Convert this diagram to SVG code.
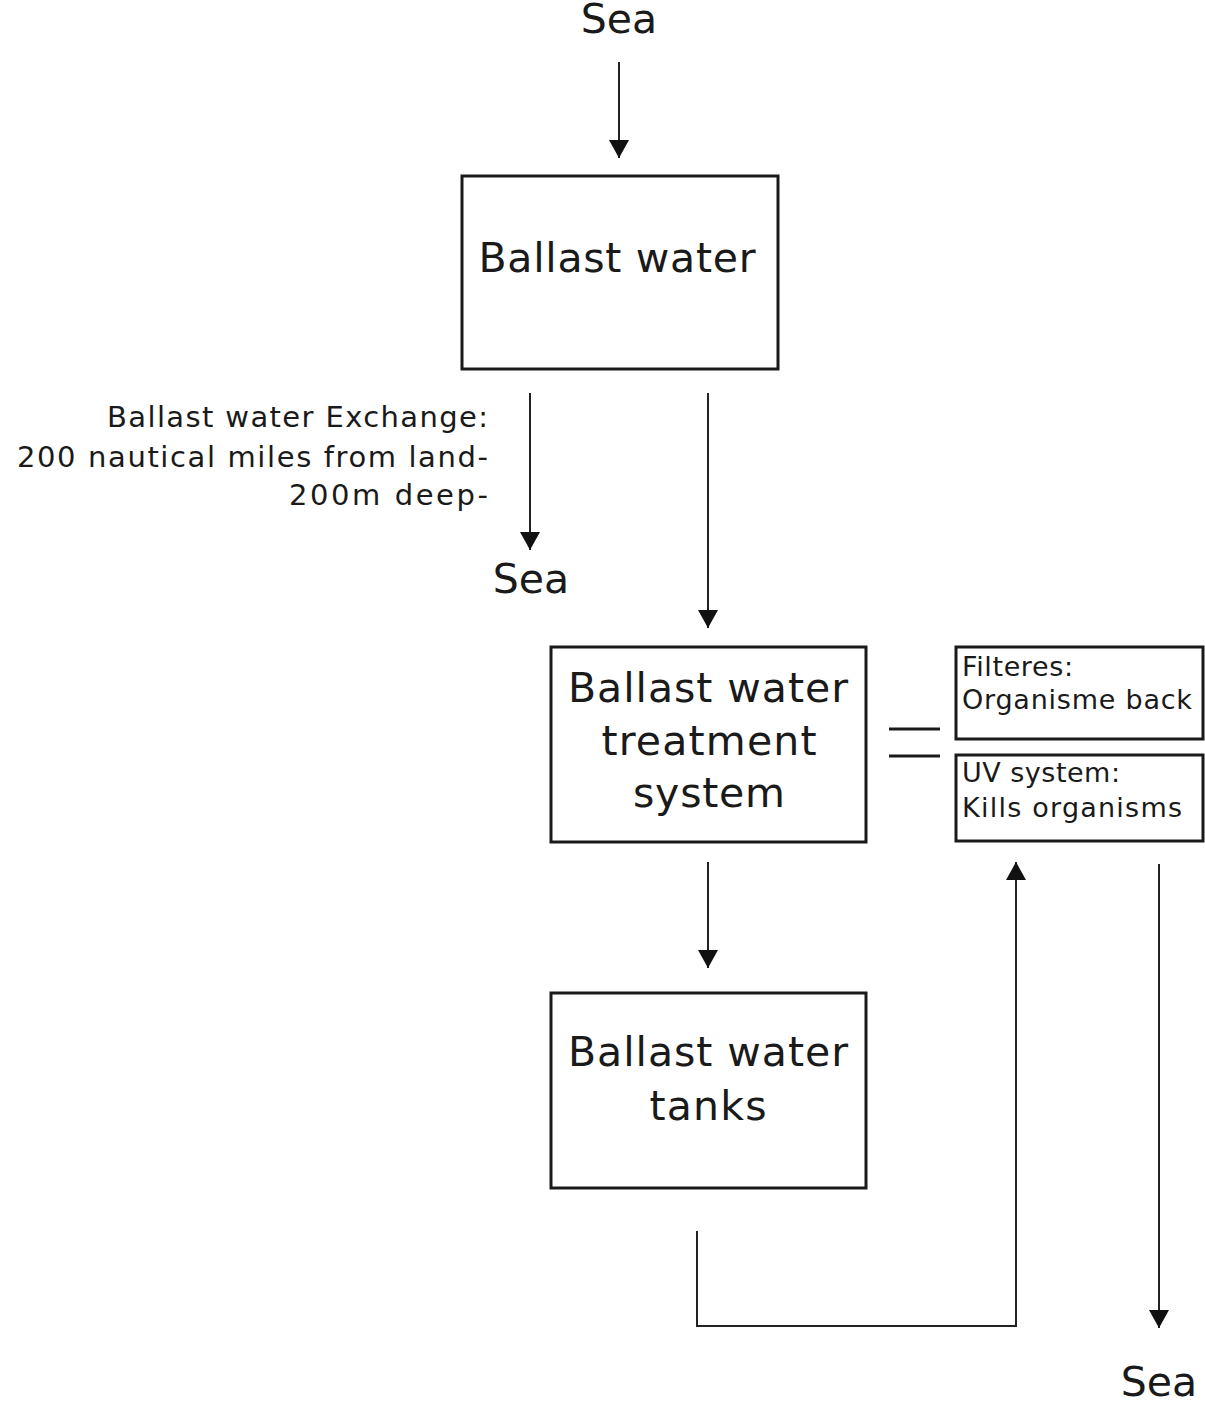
<svg xmlns="http://www.w3.org/2000/svg" width="1205" height="1404" viewBox="0 0 1205 1404">
<style>
  .box { fill: #ffffff; stroke: #1a1a1a; stroke-width: 3; }
  .big { font-family: "DejaVu Sans", "Liberation Sans", sans-serif; font-size: 41px; fill: #1a1a1a; text-anchor: middle; }
  .mid { font-family: "DejaVu Sans", "Liberation Sans", sans-serif; font-size: 29px; fill: #1a1a1a; text-anchor: end; }
  .small { font-family: "DejaVu Sans", "Liberation Sans", sans-serif; font-size: 27px; fill: #1a1a1a; }
  .conn { fill: none; stroke: #222222; stroke-width: 2; }
  .eq { stroke: #1a1a1a; stroke-width: 3; }
</style>
<defs>
  <marker id="arrow" viewBox="0 0 18 20" markerWidth="18" markerHeight="20" refX="18" refY="10" orient="auto" markerUnits="userSpaceOnUse">
    <path d="M0,0 L18,10 L0,20 Z" fill="#111111"/>
  </marker>
</defs>
<rect width="1205" height="1404" fill="#ffffff"/>

<g id="connectors">
  <line class="conn" x1="619" y1="62" x2="619" y2="158" marker-end="url(#arrow)"/>
  <line class="conn" x1="530" y1="393" x2="530" y2="550" marker-end="url(#arrow)"/>
  <line class="conn" x1="708" y1="393" x2="708" y2="628" marker-end="url(#arrow)"/>
  <line class="conn" x1="708" y1="862" x2="708" y2="968" marker-end="url(#arrow)"/>
  <polyline class="conn" points="697,1231 697,1326 1016,1326 1016,862" marker-end="url(#arrow)"/>
  <line class="conn" x1="1159" y1="864" x2="1159" y2="1328" marker-end="url(#arrow)"/>
</g>

<g id="sea-top">
  <text class="big" x="619" y="33">Sea</text>
</g>

<g id="ballast-water">
  <rect class="box" x="462" y="176" width="316" height="193"/>
  <text class="big" x="617" y="272" textLength="277">Ballast water</text>
</g>

<g id="exchange-label">
  <text class="mid" x="488" y="427" textLength="381">Ballast water Exchange:</text>
  <text class="mid" x="488" y="467" textLength="471">200 nautical miles from land-</text>
  <text class="mid" x="488" y="505" textLength="199">200m deep-</text>
</g>

<g id="sea-middle">
  <text class="big" x="531" y="593">Sea</text>
</g>

<g id="treatment-system">
  <rect class="box" x="551" y="647" width="315" height="195"/>
  <text class="big" x="708" y="702" textLength="280">Ballast water</text>
  <text class="big" x="709" y="755" textLength="215">treatment</text>
  <text class="big" x="709" y="807" textLength="152">system</text>
</g>

<g id="equals">
  <line class="eq" x1="889" y1="729" x2="940" y2="729"/>
  <line class="eq" x1="889" y1="756" x2="940" y2="756"/>
</g>

<g id="filters">
  <rect class="box" x="956" y="647" width="247" height="92"/>
  <text class="small" x="962" y="676" textLength="111">Filteres:</text>
  <text class="small" x="962" y="709" textLength="230">Organisme back</text>
</g>

<g id="uv-system">
  <rect class="box" x="956" y="755" width="247" height="86"/>
  <text class="small" x="962" y="782" textLength="158">UV system:</text>
  <text class="small" x="962" y="817" textLength="220">Kills organisms</text>
</g>

<g id="tanks">
  <rect class="box" x="551" y="993" width="315" height="195"/>
  <text class="big" x="708" y="1066" textLength="280">Ballast water</text>
  <text class="big" x="708" y="1120" textLength="117">tanks</text>
</g>

<g id="sea-bottom">
  <text class="big" x="1159" y="1396">Sea</text>
</g>
</svg>
